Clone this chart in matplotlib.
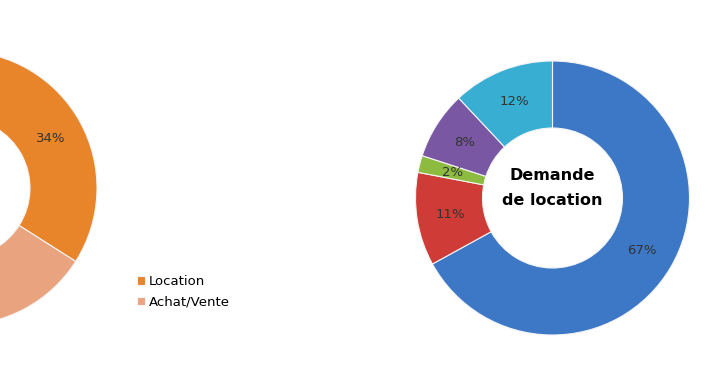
import matplotlib.pyplot as plt

# Données
types_transaction = ['Location', 'Achat/Vente']
parts_transaction = [34, 66]
couleurs_transaction = ['#E8842A', '#E9A37E']

parts_location = [67, 11, 2, 8, 12]
couleurs_location = ['#3C78C6', '#CF3B36', '#8DBB3F', '#7A57A3', '#39AED3']
titre_centre = 'Demande\nde location'

W, H = 710, 375
fig = plt.figure(figsize=(W / 100, H / 100), dpi=100)
ax = fig.add_axes([0, 0, 1, 1])

R = 137
largeur = 67

# Donut de gauche (coupé par le bord)
w1, t1, a1 = ax.pie(parts_transaction, colors=couleurs_transaction,
                    startangle=90, counterclock=False,
                    center=(-40, H - 188), radius=R,
                    autopct='%d%%', pctdistance=1 - largeur / R / 2,
                    wedgeprops=dict(width=largeur, edgecolor='#f4f4f4', linewidth=0.8),
                    textprops=dict(fontsize=9.5, color='#333333'))
# l'étiquette d'Achat/Vente tombe hors de l'image
a1[1].remove()

# Donut de droite
w2, t2, a2 = ax.pie(parts_location, colors=couleurs_location,
                    startangle=90, counterclock=False,
                    center=(552.5, H - 198), radius=R,
                    autopct='%d%%', pctdistance=1 - largeur / R / 2,
                    wedgeprops=dict(width=largeur, edgecolor='#f4f4f4', linewidth=0.8),
                    textprops=dict(fontsize=9.5, color='#333333'))

ax.text(552.5, H - 188, titre_centre, ha='center', va='center',
        fontsize=11.5, fontweight='bold', color='black', linespacing=1.9)

ax.set_xlim(0, W)
ax.set_ylim(0, H)
ax.set_aspect('equal')
ax.axis('off')

ax.legend(w1, types_transaction, loc='center left',
          bbox_to_anchor=(125 / W, 1 - 292 / H), frameon=False,
          fontsize=9.5, handlelength=0.6, handleheight=0.6,
          handletextpad=0.3, labelspacing=0.6)

fig.savefig('out.png', dpi=100, facecolor='white')
